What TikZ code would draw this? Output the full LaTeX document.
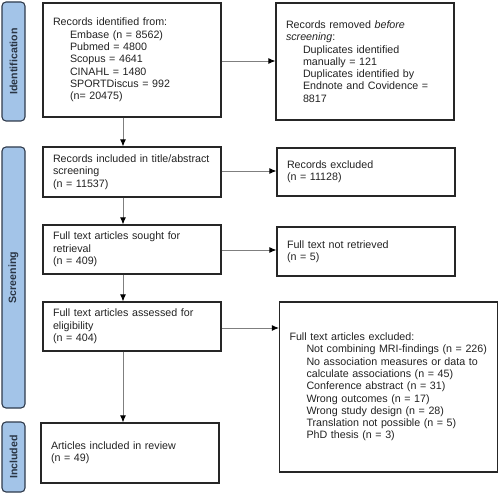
\documentclass[tikz,border=0pt]{standalone}
\usepackage{fontspec}
\setmainfont{Liberation Sans}
\usetikzlibrary{arrows.meta}
\definecolor{barfill}{HTML}{A3C4E8}
\definecolor{bardraw}{HTML}{2F3B4C}
\definecolor{txt}{HTML}{222222}
\definecolor{arrgray}{HTML}{7F7F7F}
\tikzset{
  pbox/.style={draw=black!85, line width=1.2pt, text=txt, align=left, inner xsep=10pt, inner ysep=0pt,
    font=\fontsize{10.7pt}{12.3pt}\selectfont, anchor=center},
  bar/.style={draw=bardraw, fill=barfill, line width=1.1pt, rounded corners=4pt},
  barlabel/.style={rotate=90, font=\fontsize{10.6pt}{12pt}\selectfont\bfseries, text=bardraw!90!black},
  arr/.style={draw=arrgray, line width=0.9pt, -{Latex[length=7pt,width=6pt,color=black]}}
}
\newcommand{\ind}{\hspace*{17pt}}
\begin{document}
\begin{tikzpicture}[x=1pt,y=-1pt]
\useasboundingbox (0,0) rectangle (500,494);
% side bars
\draw[bar] (2,2) rectangle (25,121);
\node[barlabel] (lid) at (13.5,61.5) {Identification};
\draw[bar] (2,147) rectangle (25,408);
\node[barlabel] (lsc) at (13.5,277.5) {Screening};
\draw[bar] (2,422) rectangle (25,492);
\node[barlabel] (lin) at (13.5,457) {Included};
% boxes
\node[pbox, text width=158pt, minimum height=114pt] (b1) at (132,60)
 {Records identified from:\\ \ind Embase (n = 8562)\\ \ind Pubmed = 4800\\ \ind Scopus = 4641\\ \ind CINAHL = 1480\\ \ind SPORTDiscus = 992\\ \ind (n= 20475)};
\node[pbox, text width=158pt, minimum height=117pt] (b2) at (365,61.5)
 {Records removed \textit{before}\\ \textit{screening}:\\ \ind Duplicates identified\\ \ind manually = 121\\ \ind Duplicates identified by\\ \ind Endnote and Covidence =\\ \ind 8817};
\node[pbox, text width=158pt, minimum height=50pt] (b3) at (132,172)
 {Records included in title/abstract\\ screening\\ (n = 11537)};
\node[pbox, text width=158pt, minimum height=48pt] (b4) at (366,172)
 {Records excluded\\ (n = 11128)};
\node[pbox, text width=158pt, minimum height=49pt] (b5) at (132,249.5)
 {Full text articles sought for\\ retrieval\\ (n = 409)};
\node[pbox, text width=158pt, minimum height=49pt] (b6) at (366,251.5)
 {Full text not retrieved\\ (n = 5)};
\node[pbox, text width=158pt, minimum height=49pt] (b7) at (132,326.5)
 {Full text articles assessed for\\ eligibility\\ (n = 404)};
\node[pbox, text width=198pt, minimum height=170pt] (b8) at (388.5,387)
 {Full text articles excluded:\\ \ind Not combining MRI-findings (n = 226)\\ \ind No association measures or data to\\ \ind calculate associations (n = 45)\\ \ind Conference abstract (n = 31)\\ \ind Wrong outcomes (n = 17)\\ \ind Wrong study design (n = 28)\\ \ind Translation not possible (n = 5)\\ \ind PhD thesis (n = 3)};
\node[pbox, text width=158pt, minimum height=60pt] (b9) at (130,453)
 {Articles included in review\\ (n = 49)};
% connectors
\coordinate (xv) at (123,0);
\draw[arr] (b1.south -| xv) -- (b3.north -| xv);
\draw[arr] (b3.south -| xv) -- (b5.north -| xv);
\draw[arr] (b5.south -| xv) -- (b7.north -| xv);
\draw[arr] (b7.south -| xv) -- (b9.north -| xv);
\coordinate (y1) at (0,61);
\coordinate (y2) at (0,171);
\coordinate (y3) at (0,250);
\coordinate (y4) at (0,328);
\draw[arr] (b1.east |- y1) -- (b2.west |- y1);
\draw[arr] (b3.east |- y2) -- (b4.west |- y2);
\draw[arr] (b5.east |- y3) -- (b6.west |- y3);
\draw[arr] (b7.east |- y4) -- (b8.west |- y4);
\end{tikzpicture}
\end{document}
